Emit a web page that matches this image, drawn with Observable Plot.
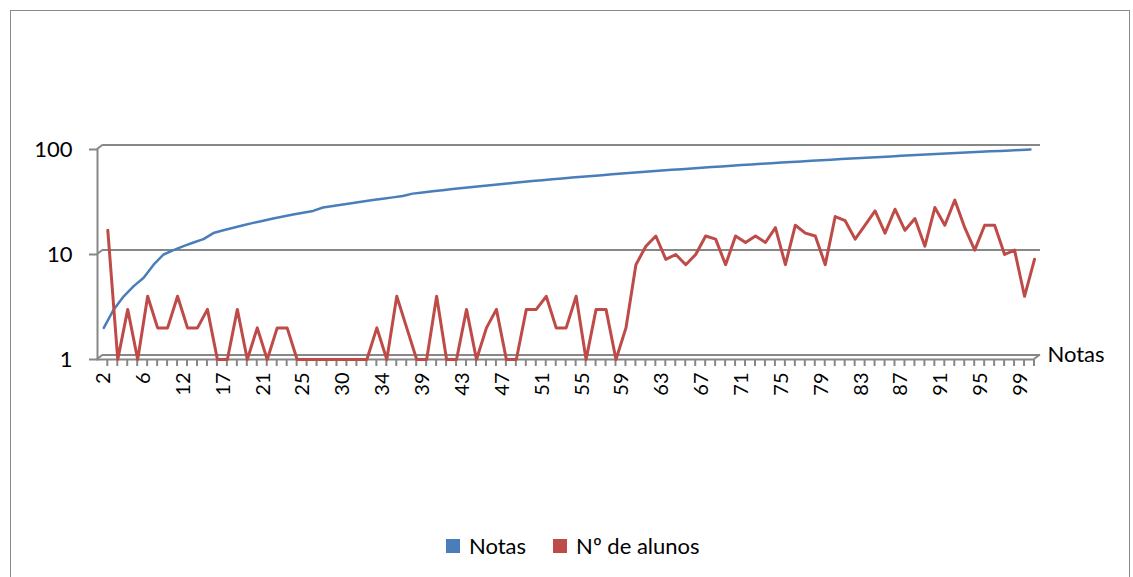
<!DOCTYPE html>
<html><head><meta charset="utf-8">
<script src="https://cdn.jsdelivr.net/npm/d3@7"></script>
<script src="https://cdn.jsdelivr.net/npm/@observablehq/plot@0.6"></script>
<style>
body{margin:0;background:#fff;font-family:Lato,sans-serif;}
#wrap{position:relative;width:1133px;height:577px;overflow:hidden;background:#fff}
#border{position:absolute;left:10px;top:10px;width:1120px;height:590px;border:1.5px solid #8a8a8a;box-sizing:border-box}
#chart{position:absolute;left:0;top:0}
#legend{position:absolute;left:446px;top:533px;display:flex;align-items:center;font-size:22px;color:#000;line-height:26px}
.sw{width:14px;height:14px;display:inline-block;margin-right:9px}
</style></head><body>
<div id="wrap"><div id="border"></div><div id="chart"></div>
<div id="legend"><span class="sw" style="background:#4A7EBB"></span><span>Notas</span><span class="sw" style="background:#BE4B48;margin-left:27px"></span><span>Nº de alunos</span></div></div>
<script>
// Categories (grades present) and series
const notas = [2,3,4,5,6,8,10,11,12,13,14,16,17,18,19,20,21,22,23,24,25,26,28,29,30,31,32,33,34,35,36,38,39,40,41,42,43,44,45,46,47,48,49,50,51,52,53,54,55,56,57,58,59,60,61,62,63,64,65,66,67,68,69,70,71,72,73,74,75,76,77,78,79,80,81,82,83,84,85,86,87,88,89,90,91,92,93,94,95,96,97,98,99,100];
const alunos = [17,1,3,1,4,2,2,4,2,2, 3,1,1,3,1,2,1,2,2,1, 1,1,1,1,1,1,1,2,1,4, 2,1,1,4,1,1,3,1,2,3, 1,1,3,3,4,2,2,4,1,3, 3,1,2,8,12,15,9,10,8,10, 15,14,8,15,13,15,13,18,8,19, 16,15,8,23,21,14,19,26,16,27, 17,22,12,28,19,33,18,11,19,19, 10,11,4,9];
const tickLabels = [2,6,12,17,21,25,30,34,39,43,47,51,55,59,63,67,71,75,79,83,87,91,95,99];
const yTicks = [1,10,100];

const rows = notas.map((n, i) => ({nota: n, valor: n, alunos: alunos[i]}));
const grid = "#878787";

const chart = Plot.plot({
  width: 1133, height: 420,
  marginTop: 149, marginBottom: 61, marginLeft: 97, marginRight: 99,
  x: {type: "point", domain: notas, range: [103.3, 1030], padding: 0},
  y: {type: "log", domain: [1, 100], range: [359, 149]},
  style: {fontFamily: "Lato, sans-serif", fontSize: "22px", color: "#000", background: "transparent"},
  marks: [
    Plot.ruleY(yTicks, {stroke: grid, strokeWidth: 2, dx: 6, dy: -4.5}),
    Plot.ruleY([1], {stroke: grid, strokeWidth: 2}),
    Plot.frame({anchor: "left", stroke: grid, strokeWidth: 2}),
    Plot.axisY({ticks: yTicks, tickSize: 8, tickPadding: 17, tickFormat: d => String(d), stroke: grid, strokeWidth: 2, fill: "#000", fontSize: 22, label: null}),
    Plot.ruleX(notas, {x: d => d, y1: () => 1, y2: () => 1, insetBottom: -7, stroke: grid, strokeWidth: 2, dx: 3.5}),
    Plot.axisX({ticks: tickLabels, tickSize: 0, tickPadding: 13, tickRotate: -90, tickFormat: d => String(d), fill: "#000", fontSize: 20, label: null}),
    Plot.line(rows, {x: "nota", y: "valor", stroke: "#4A7EBB", strokeWidth: 2.5}),
    Plot.line(rows, {x: "nota", y: "alunos", stroke: "#BE4B48", strokeWidth: 3, dx: 4}),
    Plot.text(["Notas"], {frameAnchor: "bottom-right", dx: 13, dy: 2, textAnchor: "start", fontSize: 22, fill: "#000"})
  ]
});
document.getElementById("chart").appendChild(chart);

// 3D-style corner connectors between the front axis and the back wall
const svg = d3.select(chart);
const ys = chart.scale("y");
const yS = d3.scaleLog(ys.domain, ys.range);
const g = svg.append("g").attr("stroke", grid).attr("stroke-width", 2).attr("fill", "none");
const left = 97, right = 1133 - 99;
yTicks.forEach(v => {
  g.append("line").attr("x1", left).attr("y1", yS(v)).attr("x2", left + 6).attr("y2", yS(v) - 4.5);
});
g.append("line").attr("x1", right).attr("y1", yS(1)).attr("x2", right + 6).attr("y2", yS(1) - 4.5);
</script>
</body></html>
